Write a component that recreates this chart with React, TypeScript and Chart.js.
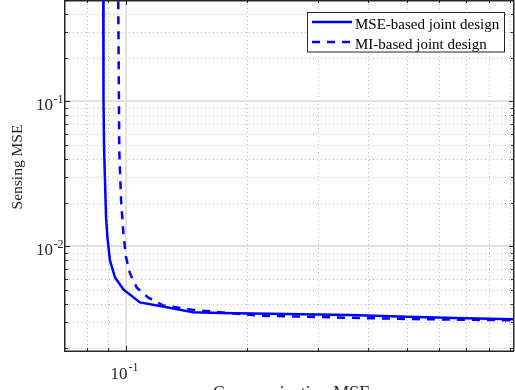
import React, { useEffect, useRef } from "react";
import { Chart, registerables } from "chart.js";

Chart.register(...registerables);

// ---- data ----
const seriesLabels = ["MSE-based joint design", "MI-based joint design"];

const mseCommMSE = [0.0877, 0.0878, 0.088, 0.0882, 0.0887, 0.0892, 0.0899, 0.0912, 0.0939, 0.0985, 0.1083, 0.1262, 0.1468, 0.1713, 0.25, 0.36, 0.5, 0.7, 0.93];
const mseSensMSE = [1.0, 0.3, 0.1, 0.046, 0.027, 0.0158, 0.0115, 0.008, 0.0061, 0.00505, 0.00411, 0.0038, 0.00351, 0.00348, 0.00342, 0.00336, 0.00327, 0.0032, 0.00314];

const miCommMSE = [0.0955, 0.0957, 0.0962, 0.0972, 0.0985, 0.1, 0.1023, 0.1063, 0.1134, 0.1236, 0.1468, 0.215, 0.3606, 0.5, 0.7, 0.93];
const miSensMSE = [1.0, 0.4, 0.0459, 0.0208, 0.0123, 0.0084, 0.00651, 0.00521, 0.00445, 0.00392, 0.00365, 0.00333, 0.00322, 0.00316, 0.00312, 0.00309];

const xLimits = [0.0705, 0.923];
const yLimits = [0.0019, 0.5];

const xMajorTicks = [0.1];
const xMajorTickBase = ["10"];
const xMajorTickExp = ["-1"];
const xMinorTicks = [0.08, 0.09, 0.2, 0.3, 0.4, 0.5, 0.6, 0.7, 0.8, 0.9];

const yMajorTicks = [0.01, 0.1];
const yMajorTickBase = ["10", "10"];
const yMajorTickExp = ["-2", "-1"];
const yMinorTicks = [0.002, 0.003, 0.004, 0.005, 0.006, 0.007, 0.008, 0.009, 0.02, 0.03, 0.04, 0.05, 0.06, 0.07, 0.08, 0.09, 0.2, 0.3, 0.4];

const xTitle = "Communication MSE";
const yTitle = "Sensing MSE";

const FONT = "'Liberation Serif', 'Times New Roman', Times, serif";
const AXIS_COLOR = "#262626";
const LINE_COLOR = "#0000ff";

const matlabPlugin = {
  id: "matlabAxes",
  beforeDatasetsDraw(chart: any) {
    const { ctx, chartArea: a, scales } = chart;
    const xs = scales.x;
    const ys = scales.y;
    ctx.save();
    // minor grid (dotted)
    ctx.strokeStyle = "#b8b8b8";
    ctx.lineWidth = 1;
    ctx.setLineDash([1, 3]);
    for (const v of xMinorTicks) {
      const p = Math.round(xs.getPixelForValue(v)) + 0.5;
      ctx.beginPath();
      ctx.moveTo(p, a.top);
      ctx.lineTo(p, a.bottom);
      ctx.stroke();
    }
    for (const v of yMinorTicks) {
      const p = Math.round(ys.getPixelForValue(v)) + 0.5;
      ctx.beginPath();
      ctx.moveTo(a.left, p);
      ctx.lineTo(a.right, p);
      ctx.stroke();
    }
    // major grid (solid light)
    ctx.setLineDash([]);
    ctx.strokeStyle = "#e1e1e1";
    ctx.lineWidth = 2;
    for (const v of xMajorTicks) {
      const p = Math.round(xs.getPixelForValue(v));
      ctx.beginPath();
      ctx.moveTo(p, a.top);
      ctx.lineTo(p, a.bottom);
      ctx.stroke();
    }
    for (const v of yMajorTicks) {
      const p = Math.round(ys.getPixelForValue(v));
      ctx.beginPath();
      ctx.moveTo(a.left, p);
      ctx.lineTo(a.right, p);
      ctx.stroke();
    }
    ctx.restore();
  },
  afterDatasetsDraw(chart: any) {
    const { ctx, chartArea: a, scales } = chart;
    const xs = scales.x;
    const ys = scales.y;
    ctx.save();
    ctx.setLineDash([]);
    // ticks
    ctx.strokeStyle = AXIS_COLOR;
    ctx.lineWidth = 1;
    const tickX = (v: number, len: number) => {
      const p = Math.round(xs.getPixelForValue(v)) + 0.5;
      ctx.beginPath();
      ctx.moveTo(p, a.bottom);
      ctx.lineTo(p, a.bottom - len);
      ctx.moveTo(p, a.top);
      ctx.lineTo(p, a.top + len);
      ctx.stroke();
    };
    const tickY = (v: number, len: number) => {
      const p = Math.round(ys.getPixelForValue(v)) + 0.5;
      ctx.beginPath();
      ctx.moveTo(a.left, p);
      ctx.lineTo(a.left + len, p);
      ctx.moveTo(a.right, p);
      ctx.lineTo(a.right - len, p);
      ctx.stroke();
    };
    xMinorTicks.forEach((v) => tickX(v, 3));
    xMajorTicks.forEach((v) => tickX(v, 5));
    yMinorTicks.forEach((v) => tickY(v, 3));
    yMajorTicks.forEach((v) => tickY(v, 5));

    // box
    ctx.lineWidth = 1.5;
    ctx.beginPath();
    ctx.moveTo(a.left, a.top + 0.75);
    ctx.lineTo(a.right, a.top + 0.75);
    ctx.moveTo(a.right - 0.25, a.top);
    ctx.lineTo(a.right - 0.25, a.bottom);
    ctx.moveTo(a.left - 0.25, a.top);
    ctx.lineTo(a.left - 0.25, a.bottom + 0.75);
    ctx.moveTo(a.left - 1, a.bottom + 0.25);
    ctx.lineTo(a.right, a.bottom + 0.25);
    ctx.stroke();

    // tick labels
    ctx.fillStyle = AXIS_COLOR;
    ctx.textAlign = "left";
    ctx.textBaseline = "alphabetic";
    const baseFont = `17px ${FONT}`;
    const expFont = `12px ${FONT}`;
    yMajorTicks.forEach((v, i) => {
      const p = ys.getPixelForValue(v);
      ctx.font = expFont;
      const we = ctx.measureText(yMajorTickExp[i]).width;
      ctx.font = baseFont;
      const wb = ctx.measureText(yMajorTickBase[i]).width;
      const expStart = a.left - 1.5 - we;
      ctx.fillText(yMajorTickBase[i], expStart - wb - 0.5, p + 9);
      ctx.font = expFont;
      ctx.fillText(yMajorTickExp[i], expStart, p + 2);
    });
    xMajorTicks.forEach((v, i) => {
      const p = xs.getPixelForValue(v);
      ctx.font = expFont;
      const we = ctx.measureText(xMajorTickExp[i]).width;
      ctx.font = baseFont;
      const wb = ctx.measureText(xMajorTickBase[i]).width;
      const start = p - 1.5 - (wb + we + 1) / 2;
      ctx.fillText(xMajorTickBase[i], start, 378.5);
      ctx.font = expFont;
      ctx.fillText(xMajorTickExp[i], start + wb + 1, 371);
    });

    // axis titles
    ctx.font = `18px ${FONT}`;
    ctx.textAlign = "center";
    ctx.fillText(xTitle, (a.left + a.right) / 2 + 2, 399);
    ctx.save();
    ctx.translate(21.5, 167);
    ctx.rotate(-Math.PI / 2);
    ctx.font = `15.5px ${FONT}`;
    ctx.fillText(yTitle, 0, 0);
    ctx.restore();

    // legend
    const lx = 307.5, ly = 12.5, lw = 197, lh = 39.5;
    ctx.fillStyle = "#ffffff";
    ctx.fillRect(lx, ly, lw, lh);
    ctx.strokeStyle = AXIS_COLOR;
    ctx.lineWidth = 1;
    ctx.strokeRect(lx, ly, lw, lh);
    const rows = [22, 42];
    chart.data.datasets.forEach((ds: any, i: number) => {
      const y = rows[i];
      ctx.strokeStyle = ds.borderColor;
      ctx.lineWidth = ds.borderWidth;
      ctx.setLineDash(ds.borderDash || []);
      ctx.beginPath();
      ctx.moveTo(312, y);
      ctx.lineTo(352, y);
      ctx.stroke();
      ctx.setLineDash([]);
      ctx.fillStyle = "#000000";
      ctx.font = `15px ${FONT}`;
      ctx.textAlign = "left";
      ctx.fillText(ds.label, 355, y + 6.8);
    });
    ctx.restore();
  },
};

export default function App() {
  const ref = useRef<HTMLCanvasElement | null>(null);
  useEffect(() => {
    if (!ref.current) return;
    const chart = new Chart(ref.current, {
      type: "line",
      data: {
        datasets: [
          {
            label: seriesLabels[0],
            data: mseCommMSE.map((x, i) => ({ x, y: mseSensMSE[i] })),
            borderColor: LINE_COLOR,
            borderWidth: 2.5,
            pointRadius: 0,
            tension: 0,
            fill: false,
          },
          {
            label: seriesLabels[1],
            data: miCommMSE.map((x, i) => ({ x, y: miSensMSE[i] })),
            borderColor: LINE_COLOR,
            borderWidth: 2.5,
            borderDash: [8, 7],
            pointRadius: 0,
            tension: 0,
            fill: false,
          },
        ],
      },
      options: {
        animation: false,
        responsive: false,
        devicePixelRatio: 1,
        layout: { padding: { top: 0, right: 1, left: 0, bottom: 0 } },
        plugins: { legend: { display: false }, tooltip: { enabled: false } },
        events: [],
        scales: {
          x: {
            type: "logarithmic",
            min: xLimits[0],
            max: xLimits[1],
            ticks: { display: false },
            grid: { display: false },
            border: { display: false },
            afterFit: (s: any) => {
              s.height = 39;
            },
          },
          y: {
            type: "logarithmic",
            min: yLimits[0],
            max: yLimits[1],
            ticks: { display: false },
            grid: { display: false },
            border: { display: false },
            afterFit: (s: any) => {
              s.width = 65;
            },
          },
        },
      } as any,
      plugins: [matlabPlugin],
    });
    return () => chart.destroy();
  }, []);
  return (
    <div style={{ position: "fixed", left: 0, top: 0, width: 515, height: 390, background: "#fff" }}>
      <canvas ref={ref} width={515} height={390} style={{ display: "block" }} />
    </div>
  );
}
